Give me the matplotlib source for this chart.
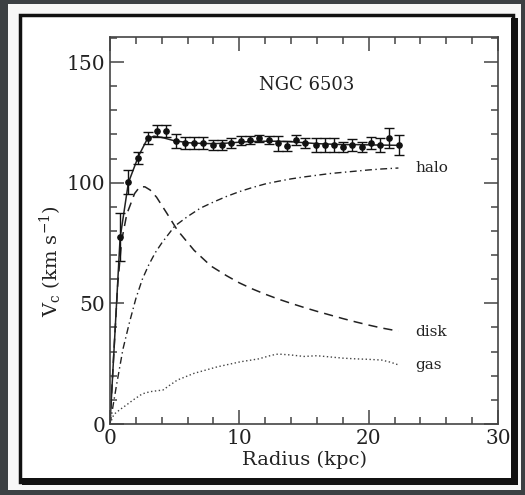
import matplotlib
matplotlib.use("Agg")
import matplotlib.pyplot as plt
from matplotlib.patches import Rectangle
from matplotlib.ticker import MultipleLocator

plt.rcParams['font.family'] = ['DejaVu Serif']
plt.rcParams['mathtext.fontset'] = 'dejavuserif'

# ---- data ----
obs_r = [0.78, 1.42, 2.2, 2.9, 3.6, 4.34, 5.08, 5.8, 6.5, 7.2, 7.93, 8.65, 9.35, 10.1,
         10.85, 11.55, 12.27, 13.0, 13.7, 14.42, 15.1, 15.9, 16.6, 17.3, 18.0, 18.7,
         19.46, 20.15, 20.87, 21.57, 22.35]
obs_v = [77.4, 100.4, 110.4, 118.4, 121.6, 121.6, 117.4, 116.3, 116.3, 116.3, 115.6, 115.6,
         116.6, 117.5, 117.7, 118.4, 117.7, 116.3, 115.3, 117.7, 116.6, 115.6, 115.6, 115.6,
         114.7, 115.6, 114.7, 116.3, 115.6, 118.6, 115.6]
obs_err = [10, 5, 2.5, 2.5, 2.5, 2.5, 3, 2.5, 2.5, 2.5, 2, 2, 2, 2,
           1.5, 1.5, 1.5, 3, 2, 2, 2, 3, 3, 3, 2, 2.5, 2, 2.5, 3, 4, 4]

tot_r = [0, 0.78, 1.42, 2.2, 2.9, 3.4, 4.0, 4.9, 6.0, 7.0, 8.0, 9.0, 10.0, 11.0, 12.0,
         13.0, 14.0, 15.0, 16.0, 17.0, 18.0, 19.0, 20.0, 21.0, 22.35]
tot_v = [0, 77, 100, 111, 118.3, 119.3, 118.8, 117.5, 116.6, 116.3, 116.2, 116.4, 116.8,
         117.1, 117.2, 117.2, 117.0, 116.6, 116.2, 116.0, 115.8, 115.8, 115.7, 115.6, 115.5]

disk_r = [0, 0.3, 0.6, 0.9, 1.3, 1.9, 2.3, 2.7, 3.1, 3.6, 4.4, 5.2, 6.5, 7.8, 9.0, 10.0,
          11.0, 12.0, 13.0, 14.0, 15.0, 16.0, 17.0, 18.0, 19.0, 20.0, 21.0, 22.3]
disk_v = [0, 30, 58, 76, 87, 95.5, 98.3, 98.3, 97, 94, 87.3, 80.4, 72, 65.5, 61.5, 58.5,
          56, 53.8, 51.8, 50, 48.3, 46.7, 45.2, 43.7, 42.3, 41, 39.8, 38.5]

halo_r = [0, 0.5, 1.0, 1.5, 2.0, 2.5, 3.0, 3.5, 4.0, 5.0, 6.0, 7.0, 8.0, 9.0, 10.0,
          11.0, 12.0, 13.0, 14.0, 15.0, 16.0, 17.0, 18.0, 19.0, 20.0, 21.0, 22.3]
halo_v = [0, 16, 31, 42, 52, 60, 66, 71, 75, 82, 86, 89.5, 92, 94.3, 96.3, 98, 99.5,
          100.6, 101.6, 102.4, 103.1, 103.8, 104.3, 104.8, 105.3, 105.7, 106.1]

gas_r = [0, 0.3, 0.78, 1.3, 1.8, 2.5, 3.1, 4.1, 4.6, 5.2, 6.5, 8.3, 10.1, 11.5, 12.5,
         13.0, 14.0, 15.0, 16.0, 17.0, 18.0, 19.0, 20.0, 21.0, 21.7, 22.3]
gas_v = [0, 4, 6, 8, 10, 12.5, 13.4, 14.1, 16, 18.2, 21, 23.7, 25.8, 27, 28.5, 29,
         28.6, 28, 28.3, 27.8, 27.3, 27, 26.8, 26.5, 25.6, 24.5]

comp_labels = ["halo", "disk", "gas"]
comp_label_v = [106, 38, 24.5]

W, H = 525, 495
fig = plt.figure(figsize=(W / 100, H / 100), dpi=100, facecolor='#3c4043')

def px(x0, y0, x1, y1):
    return (x0 / W, 1 - y1 / H, (x1 - x0) / W, (y1 - y0) / H)

# paper and frame
l, b, w, h = px(8, 4, 521, 490)
fig.patches.append(Rectangle((l, b), w, h, transform=fig.transFigure,
                             facecolor='#f7f7f7', edgecolor='none', zorder=-3))
l, b, w, h = px(20, 15, 513, 482)
fig.patches.append(Rectangle((l, b), w, h, transform=fig.transFigure,
                             facecolor='white', edgecolor='#111111', lw=2.5, zorder=-2))
# thicker shadow on right and bottom
l, b, w, h = px(511, 18, 518, 485)
fig.patches.append(Rectangle((l, b), w, h, transform=fig.transFigure,
                             facecolor='#111111', edgecolor='none', zorder=-1))
l, b, w, h = px(22, 478, 518, 485)
fig.patches.append(Rectangle((l, b), w, h, transform=fig.transFigure,
                             facecolor='#111111', edgecolor='none', zorder=-1))

ax = fig.add_axes([110 / W, 1 - 424 / H, (498 - 110) / W, (424 - 37) / H])
ax.set_facecolor('white')
ax.set_xlim(0, 30)
ax.set_ylim(0, 160.4)

lc = '#222222'
ax.plot(tot_r, tot_v, color=lc, lw=1.1)
ax.plot(disk_r, disk_v, color=lc, lw=1.1, dashes=(6, 4))
ax.plot(halo_r, halo_v, color=lc, lw=1.0, dashes=(5, 2.5, 1, 2.5))
ax.plot(gas_r, gas_v, color='#444444', lw=1.0, dashes=(1, 1.8))
ax.errorbar(obs_r, obs_v, yerr=obs_err, fmt='o', color='#111111', ms=3.8,
            elinewidth=1.0, capsize=3.5, capthick=1.0)

for lab, v in zip(comp_labels, comp_label_v):
    ax.text(23.6, v, lab, fontsize=11, va='center', ha='left', color='#222222')

ax.text(0.508, 0.876, "NGC 6503", transform=ax.transAxes, fontsize=13,
        ha='center', va='center', color='#222222')

ax.xaxis.set_major_locator(MultipleLocator(10))
ax.xaxis.set_minor_locator(MultipleLocator(2))
ax.yaxis.set_major_locator(MultipleLocator(50))
ax.yaxis.set_minor_locator(MultipleLocator(10))
ax.tick_params(which='both', direction='in', top=True, right=True,
               color='#444444', width=1.1, labelsize=14.5, labelcolor='#222222')
ax.tick_params(which='major', length=10)
ax.tick_params(which='minor', length=5)
for s in ax.spines.values():
    s.set_color('#444444')
    s.set_linewidth(1.2)
ax.set_xticks([0, 10, 20, 30])
ax.set_yticks([0, 50, 100, 150])

ax.set_xlabel("Radius (kpc)", fontsize=14, color='#222222', labelpad=2)
ax.set_ylabel(r"V$_{\rm c}$ (km s$^{-1}$)", fontsize=14, color='#222222')
ax.yaxis.set_label_coords(-0.118, 0.42)

fig.savefig("out.png", dpi=100, facecolor=fig.get_facecolor())
